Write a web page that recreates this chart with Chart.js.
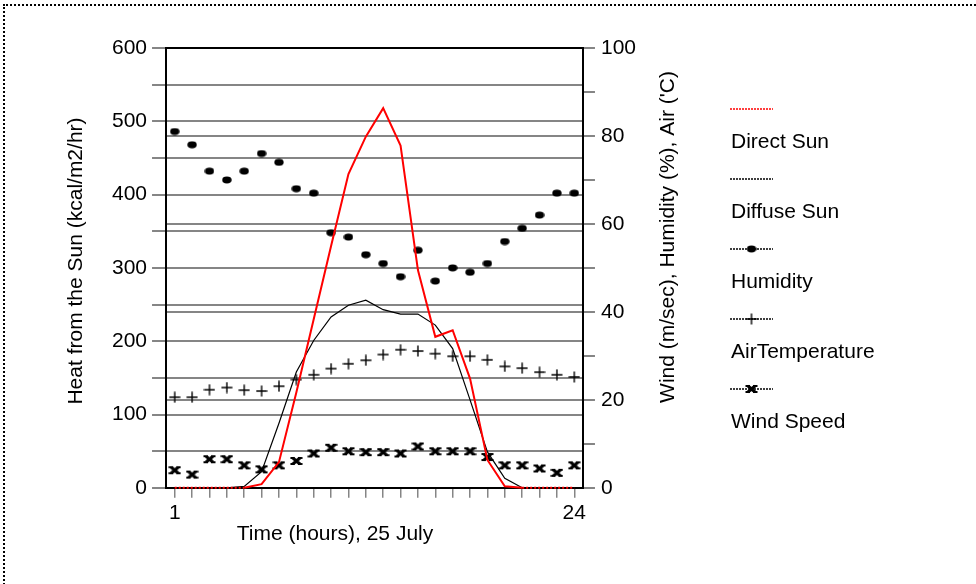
<!DOCTYPE html>
<html>
<head>
<meta charset="utf-8">
<title>Heat from the Sun, 25 July</title>
<script src="https://cdn.jsdelivr.net/npm/chart.js@4.4.1/dist/chart.umd.min.js"></script>
<style>
    html, body { margin: 0; padding: 0; background: #fff; }
    #wrap { position: relative; width: 976px; height: 584px; overflow: hidden; }
    #frame { position: absolute; left: 3px; top: 4px; width: 1100px; height: 800px; border: 2px dotted #000; pointer-events: none; }
</style>
</head>
<body>
<div id="wrap">
    <canvas id="sunChart" width="976" height="584"></canvas>
    <div id="frame"></div>
</div>
<script>
// ====================================================== 데이터 ========================================================
// 시간 (1 ~ 24시)
const hours = [1, 2, 3, 4, 5, 6, 7, 8, 9, 10, 11, 12, 13, 14, 15, 16, 17, 18, 19, 20, 21, 22, 23, 24];

// 직달 일사 (kcal/m2/hr)
const directSun = [0, 0, 0, 0, 0, 5, 35, 130, 230, 330, 428, 479, 518, 467, 297, 206, 215, 149, 38, 2, 0, 0, 0, 0];

// 확산 일사 (kcal/m2/hr)
const diffuseSun = [0, 0, 0, 0, 2, 22, 88, 158, 201, 233, 249, 256, 243, 237, 237, 222, 190, 120, 49, 13, 0, 0, 0, 0];

// 습도 (%)
const humidity = [81, 78, 72, 70, 72, 76, 74, 68, 67, 58, 57, 53, 51, 48, 54, 47, 50, 49, 51, 56, 59, 62, 67, 67];

// 기온 ('C)
const airTemp = [20.6, 20.6, 22.3, 22.8, 22.2, 22, 23.1, 24.6, 25.7, 27.1, 28.2, 29, 30.3, 31.4, 31.1, 30.5, 29.9, 29.9, 29.1, 27.6, 27.2, 26.3, 25.7, 25.2];

// 풍속 (m/sec)
const windSpeed = [4, 3, 6.5, 6.5, 5.1, 4.2, 5.1, 6.1, 7.8, 9.1, 8.3, 8.1, 8.1, 7.8, 9.4, 8.3, 8.3, 8.3, 7, 5.1, 5.1, 4.4, 3.4, 5.1];

// 눈금 라벨
const xTickLabels = [1, 24];
const heatTickLabels = [0, 100, 200, 300, 400, 500, 600];
const weatherTickLabels = [0, 20, 40, 60, 80, 100];

// ====================================================== 스타일 ========================================================
const FONT = "'Liberation Sans', Arial, sans-serif";
const GRID_GRAY = '#858585';

Chart.defaults.font.family = FONT;
Chart.defaults.font.size = 21;
Chart.defaults.color = '#000';

// 마커 모양을 작은 canvas로 만든다
function makeMarker(w, h, draw) {
    let c = document.createElement('canvas');
    c.width = w;
    c.height = h;
    let g = c.getContext('2d');
    g.translate(w / 2, h / 2);
    draw(g);
    return c;
}

// 습도 - 납작한 점
const dotMarker = makeMarker(10, 8, g => {
    g.fillStyle = '#000';
    g.beginPath();
    g.ellipse(0, 0, 4.7, 3.4, 0, 0, Math.PI * 2);
    g.fill();
});

// 기온 - 십자
const plusMarker = makeMarker(12, 12, g => {
    g.strokeStyle = '#000';
    g.lineWidth = 1.4;
    g.beginPath();
    g.moveTo(-5.5, 0); g.lineTo(5.5, 0);
    g.moveTo(0, -5.5); g.lineTo(0, 5.5);
    g.stroke();
});

// 풍속 - 굵은 X
const windMarker = makeMarker(13, 10, g => {
    g.fillStyle = '#000';
    g.strokeStyle = '#000';
    g.fillRect(-6, -4, 4.5, 2);
    g.fillRect(1.5, -4, 4.5, 2);
    g.fillRect(-6, 2, 4.5, 2);
    g.fillRect(1.5, 2, 4.5, 2);
    g.lineWidth = 3;
    g.beginPath();
    g.moveTo(-3.5, -3); g.lineTo(3.5, 3);
    g.moveTo(3.5, -3); g.lineTo(-3.5, 3);
    g.stroke();
});

// 값이 0인 구간은 점선
const zeroDash = ctx => (ctx.p0.parsed.y === 0 && ctx.p1.parsed.y === 0) ? [2, 2] : undefined;

// ====================================================== 플러그인 ========================================================
// 위쪽 테두리 + 축 제목
const frameTitles = {
    id: 'frameTitles',
    beforeDatasetsDraw(chart) {
        let a = chart.chartArea;
        let ctx = chart.ctx;
        ctx.save();
        ctx.strokeStyle = '#000';
        ctx.lineWidth = 2;
        ctx.beginPath();
        ctx.moveTo(a.left, a.top);
        ctx.lineTo(a.right, a.top);
        ctx.stroke();

        ctx.fillStyle = '#000';
        ctx.font = '21px ' + FONT;
        ctx.textAlign = 'center';
        ctx.textBaseline = 'middle';

        // 왼쪽 축 제목
        ctx.save();
        ctx.translate(76, 261);
        ctx.rotate(-Math.PI / 2);
        ctx.fillText('Heat from the Sun (kcal/m2/hr)', 0, 0);
        ctx.restore();

        // 오른쪽 축 제목
        ctx.save();
        ctx.translate(668, 237);
        ctx.rotate(-Math.PI / 2);
        ctx.fillText("Wind (m/sec), Humidity (%), Air ('C)", 0, 0);
        ctx.restore();

        // x축 제목
        ctx.fillText('Time (hours), 25 July', 335, 534);
        ctx.restore();
    }
};

// 오른쪽 범례 (선 샘플 아래에 라벨)
const sideLegend = {
    id: 'sideLegend',
    afterDraw(chart) {
        let ctx = chart.ctx;
        let left = 730, top = 109, step = 70, sampleW = 43;
        chart.data.datasets.forEach((ds, i) => {
            let y = top + i * step;
            ctx.save();
            ctx.strokeStyle = ds.borderColor;
            ctx.lineWidth = 1.5;
            ctx.setLineDash([2, 1]);
            ctx.beginPath();
            ctx.moveTo(left, y);
            ctx.lineTo(left + sampleW, y);
            ctx.stroke();
            ctx.setLineDash([]);
            if (ds.pointStyle instanceof HTMLCanvasElement) {
                let m = ds.pointStyle;
                ctx.drawImage(m, left + sampleW / 2 - m.width / 2, y - m.height / 2);
            }
            ctx.fillStyle = '#000';
            ctx.font = '21px ' + FONT;
            ctx.textAlign = 'left';
            ctx.textBaseline = 'alphabetic';
            ctx.fillText(ds.label, left + 1, y + 39);
            ctx.restore();
        });
    }
};

// ====================================================== 차트 ========================================================
const sunCt = document.getElementById('sunChart');

let sunChart = new Chart(sunCt, {
    type: 'line',
    data: {
        labels: hours,
        datasets: [{
            label: 'Direct Sun',
            data: directSun,
            yAxisID: 'yHeat',
            borderColor: '#ff0000',
            borderWidth: 2,
            pointRadius: 0,
            clip: false,
            segment: { borderDash: zeroDash }
        }, {
            label: 'Diffuse Sun',
            data: diffuseSun,
            yAxisID: 'yHeat',
            borderColor: '#000000',
            borderWidth: 1.2,
            pointRadius: 0,
            clip: false,
            segment: { borderDash: zeroDash }
        }, {
            label: 'Humidity',
            data: humidity,
            yAxisID: 'yWeather',
            showLine: false,
            borderColor: '#000000',
            backgroundColor: '#000000',
            pointStyle: dotMarker,
            pointRadius: 5
        }, {
            label: 'AirTemperature',
            data: airTemp,
            yAxisID: 'yWeather',
            showLine: false,
            borderColor: '#000000',
            backgroundColor: '#000000',
            pointStyle: plusMarker,
            pointRadius: 6
        }, {
            label: 'Wind Speed',
            data: windSpeed,
            yAxisID: 'yWeather',
            showLine: false,
            borderColor: '#000000',
            backgroundColor: '#000000',
            pointStyle: windMarker,
            pointRadius: 6
        }]
    },
    options: {
        responsive: false,
        animation: false,
        layout: {
            padding: { left: 107, right: 334, top: 48, bottom: 55 }
        },
        plugins: {
            legend: { display: false },
            tooltip: { enabled: false }
        },
        scales: {
            x: {
                type: 'category',
                offset: true,
                border: { display: true, color: '#000', width: 2 },
                grid: { drawOnChartArea: false, tickLength: 10, tickColor: GRID_GRAY, lineWidth: 1.5 },
                ticks: {
                    autoSkip: false,
                    maxRotation: 0,
                    padding: 3,
                    callback: (val, idx) => xTickLabels.includes(hours[idx]) ? hours[idx] : ''
                }
            },
            yHeat: {
                position: 'left',
                min: 0,
                max: 600,
                border: { display: true, color: '#000', width: 2 },
                grid: { color: GRID_GRAY, tickColor: GRID_GRAY, lineWidth: 2, tickLength: 14 },
                ticks: {
                    stepSize: 50,
                    padding: 5,
                    callback: v => heatTickLabels.includes(v) ? v : ''
                }
            },
            yWeather: {
                position: 'right',
                min: 0,
                max: 100,
                border: { display: true, color: '#000', width: 2 },
                grid: {
                    color: c => (c.tick && weatherTickLabels.includes(c.tick.value)) ? GRID_GRAY : 'rgba(0,0,0,0)',
                    tickColor: GRID_GRAY,
                    lineWidth: 2,
                    tickLength: 12
                },
                ticks: {
                    stepSize: 10,
                    padding: 6,
                    callback: v => weatherTickLabels.includes(v) ? v : ''
                }
            }
        }
    },
    plugins: [frameTitles, sideLegend]
});
</script>
</body>
</html>
